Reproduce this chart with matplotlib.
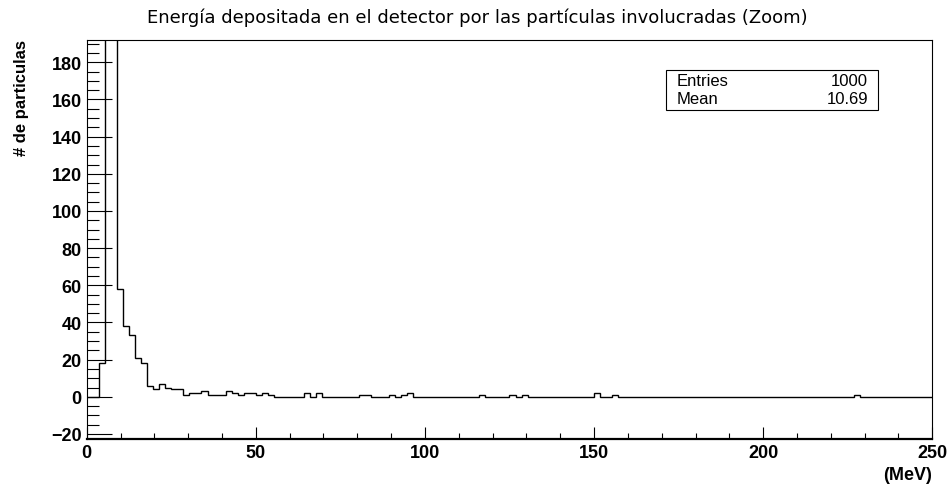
import numpy as np
import matplotlib
matplotlib.use('Agg')
import matplotlib.pyplot as plt
from matplotlib.ticker import MultipleLocator

# histogram: 140 bins between 0 and 250 MeV
X_MIN, X_MAX, N_BINS = 0, 250, 140
counts = [
    0, 0, 18, 545, 197, 58, 38, 33, 21, 18,
    6, 4, 7, 5, 4, 4, 1, 2, 2, 3,
    1, 1, 1, 3, 2, 1, 2, 2, 1, 2,
    1, 0, 0, 0, 0, 0, 2, 0, 2, 0,
    0, 0, 0, 0, 0, 1, 1, 0, 0, 0,
    1, 0, 1, 2, 0, 0, 0, 0, 0, 0,
    0, 0, 0, 0, 0, 1, 0, 0, 0, 0,
    1, 0, 1, 0, 0, 0, 0, 0, 0, 0,
    0, 0, 0, 0, 2, 0, 0, 1, 0, 0,
    0, 0, 0, 0, 0, 0, 0, 0, 0, 0,
    0, 0, 0, 0, 0, 0, 0, 0, 0, 0,
    0, 0, 0, 0, 0, 0, 0, 0, 0, 0,
    0, 0, 0, 0, 0, 0, 0, 1, 0, 0,
    0, 0, 0, 0, 0, 0, 0, 0, 0, 0,
]
stats_entries = 1000
stats_mean = 10.69

TITLE = 'Energía depositada en el detector por las partículas involucradas (Zoom)'
YLABEL = '# de particulas'
XLABEL = '(MeV)'

AXFONT = 'Liberation Sans'

W, H = 951, 485
fig = plt.figure(figsize=(W / 100, H / 100), dpi=100)
ax = fig.add_axes([86.7 / W, 1 - 440 / H, (932.3 - 86.7) / W, (440 - 41) / H])

edges = np.linspace(X_MIN, X_MAX, N_BINS + 1)
ax.stairs(counts, edges, baseline=0, color='black', lw=1.0)

ax.set_xlim(X_MIN, X_MAX)
ax.set_ylim(-22.7, 192)

ax.xaxis.set_major_locator(MultipleLocator(50))
ax.xaxis.set_minor_locator(MultipleLocator(10))
ax.yaxis.set_major_locator(MultipleLocator(20))
ax.yaxis.set_minor_locator(MultipleLocator(5))

ax.tick_params(axis='x', which='major', direction='in', length=8.6, width=0.8, pad=3.5,
               top=False, labelsize=13)
ax.tick_params(axis='x', which='minor', direction='in', length=4.3, width=0.8, top=False)
ax.tick_params(axis='y', which='major', direction='in', length=18, width=0.8, pad=3.5,
               right=False, labelsize=13)
ax.tick_params(axis='y', which='minor', direction='in', length=8.6, width=0.8, right=False)
for lab in ax.get_xticklabels() + ax.get_yticklabels():
    lab.set_fontfamily(AXFONT)
    lab.set_fontweight('bold')

for side in ['left', 'right', 'top']:
    ax.spines[side].set_linewidth(0.8)
ax.spines['bottom'].set_linewidth(1.6)

# stats box
stat_kw = dict(transform=fig.transFigure, fontfamily=AXFONT, fontsize=12, va='center')
ax.text(677 / W, 1 - 81 / H, 'Entries', ha='left', **stat_kw)
ax.text(868 / W, 1 - 81 / H, f'{stats_entries}', ha='right', **stat_kw)
ax.text(677 / W, 1 - 100 / H, 'Mean', ha='left', **stat_kw)
ax.text(868 / W, 1 - 100 / H, f'{stats_mean:.2f}', ha='right', **stat_kw)
box = plt.Rectangle((666 / W, 1 - 111 / H), (878 - 666) / W, 40 / H, transform=fig.transFigure,
                    fill=False, edgecolor='black', lw=0.8)
fig.add_artist(box)

fig.text(477 / W, 1 - 18 / H, TITLE, ha='center', va='center', fontsize=13,
         fontfamily='DejaVu Sans')
fig.text(22 / W, 1 - 40 / H, YLABEL, rotation=90, ha='center', va='top', fontsize=12,
         fontfamily=AXFONT, fontweight='bold')
fig.text(932 / W, 1 - 476 / H, XLABEL, ha='right', va='center', fontsize=13,
         fontfamily=AXFONT, fontweight='bold')

fig.savefig('out.png', dpi=100)
